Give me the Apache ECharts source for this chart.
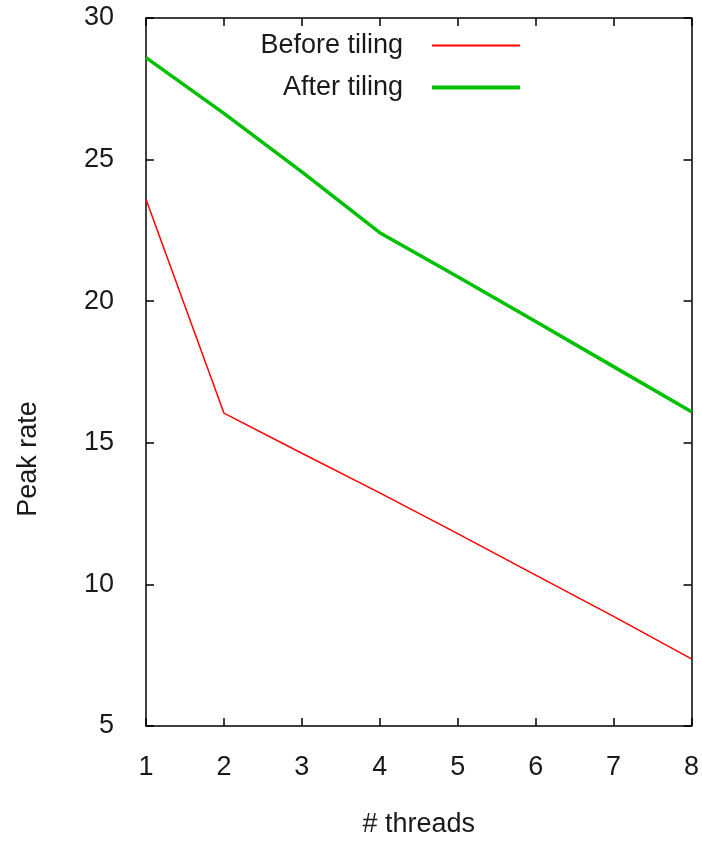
<!DOCTYPE html>
<html>
<head>
<meta charset="utf-8">
<script src="https://cdn.jsdelivr.net/npm/echarts@6/dist/echarts.min.js"></script>
<style>
html,body{margin:0;padding:0;background:#fff;}
#chart{width:702px;height:843px;}
</style>
</head>
<body>
<div id="chart"></div>
<script>
var threads = [1, 2, 3, 4, 5, 6, 7, 8];
var beforeTiling = [23.6, 16.05, 14.63, 13.23, 11.79, 10.33, 8.87, 7.37];
var afterTiling = [28.6, 26.63, 24.57, 22.42, 20.86, 19.28, 17.69, 16.1];
var seriesNames = ['Before tiling', 'After tiling'];
var xTitle = '# threads';
var yTitle = 'Peak rate';

function pairs(xs, ys) { return xs.map(function (x, i) { return [x, ys[i]]; }); }

var FONT = '"Liberation Sans", Arial, sans-serif';
var FS = 27;
var TXT = '#1a1a1a';
var axisLine = { show: true, lineStyle: { color: '#000', width: 1.5 } };
var tick = { show: true, inside: true, length: 8, lineStyle: { color: '#000', width: 1.5 } };
var chart = echarts.init(document.getElementById('chart'), null, { renderer: 'canvas' });
chart.setOption({
  animation: false,
  backgroundColor: '#fff',
  grid: { left: 146, top: 18, width: 550, height: 711, containLabel: false },
  legend: [
    { data: [seriesNames[0]], right: 182, top: 32, align: 'right', orient: 'vertical',
      icon: 'rect', itemWidth: 88, itemHeight: 2, padding: 0,
      textStyle: { fontFamily: FONT, fontSize: FS, color: TXT, padding: [0, 24, 0, 0] } },
    { data: [seriesNames[1]], right: 182, top: 74, align: 'right', orient: 'vertical',
      icon: 'rect', itemWidth: 88, itemHeight: 4, padding: 0,
      textStyle: { fontFamily: FONT, fontSize: FS, color: TXT, padding: [0, 24, 0, 0] } }
  ],
  xAxis: [
    { type: 'value', min: 1, max: 8, interval: 1, position: 'bottom',
      name: xTitle, nameLocation: 'middle', nameGap: 85,
      nameTextStyle: { fontFamily: FONT, fontSize: FS, color: TXT },
      axisLine: axisLine, splitLine: { show: false }, axisTick: tick,
      axisLabel: { fontFamily: FONT, fontSize: FS, color: TXT, margin: 28 } },
    { type: 'value', min: 1, max: 8, interval: 1, position: 'top',
      axisLine: axisLine, splitLine: { show: false }, axisTick: tick,
      axisLabel: { show: false } }
  ],
  yAxis: [
    { type: 'value', min: 5, max: 30, interval: 5, position: 'left',
      name: yTitle, nameLocation: 'middle', nameGap: 104,
      nameTextStyle: { fontFamily: FONT, fontSize: FS, color: TXT, padding: [0, 174, 0, 0] },
      axisLine: axisLine, splitLine: { show: false }, axisTick: tick,
      axisLabel: { fontFamily: FONT, fontSize: FS, color: TXT, margin: 32 } },
    { type: 'value', min: 5, max: 30, interval: 5, position: 'right',
      axisLine: axisLine, splitLine: { show: false }, axisTick: tick,
      axisLabel: { show: false } }
  ],
  series: [
    { name: seriesNames[0], type: 'line', data: pairs(threads, beforeTiling),
      showSymbol: false, symbol: 'none', color: '#ff0000',
      lineStyle: { color: '#ff0000', width: 1.5 }, itemStyle: { color: '#ff0000' } },
    { name: seriesNames[1], type: 'line', data: pairs(threads, afterTiling),
      showSymbol: false, symbol: 'none', color: '#00c000',
      lineStyle: { color: '#00c000', width: 3.5 }, itemStyle: { color: '#00c000' } }
  ]
});
</script>
</body>
</html>
